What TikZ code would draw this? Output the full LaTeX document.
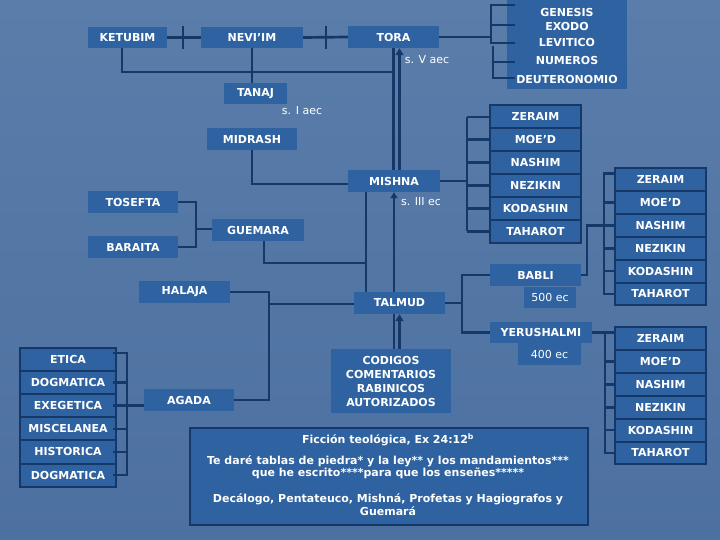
\documentclass[tikz,border=0pt]{standalone}
\usepackage{fontspec}
\setmainfont{DejaVu Sans}
\usetikzlibrary{arrows.meta,calc}
\definecolor{bgtop}{HTML}{5A7DAA}
\definecolor{bgbot}{HTML}{4C70A0}
\definecolor{boxfill}{HTML}{2E62A0}
\definecolor{navy}{HTML}{163868}
\newcommand{\lblfont}{\bfseries\fontsize{11}{12.5}\selectfont}
\newcommand{\codfont}{\bfseries\fontsize{11}{14}\selectfont}
\newcommand{\regfont}{\fontsize{11}{13}\selectfont}
\newcommand{\notefont}{\bfseries\fontsize{11}{12}\selectfont}
\tikzset{
  bx/.style={fill=boxfill, text=white, font=\lblfont, inner sep=0pt, minimum height=22pt},
  cell/.style={bx, draw=navy, line width=2pt, minimum width=91pt, minimum height=22.9pt},
  ecell/.style={bx, draw=navy, line width=2pt, minimum width=96pt, minimum height=23.1pt},
  lbl/.style={text=white, font=\lblfont, inner sep=1pt},
  reglbl/.style={text=white, font=\regfont, inner sep=1pt},
  conn/.style={draw=navy, line width=2.7pt, line join=miter},
  bigarrow/.style={draw=navy, line width=3.8pt, -{Triangle[length=7pt,width=8pt]}},
  smallarrow/.style={draw=navy, line width=2.7pt, -{Triangle[length=6pt,width=7pt]}},
  notetxt/.style={text=white, font=\notefont, inner sep=1pt, align=center}
}
\begin{document}
\begin{tikzpicture}[x=1pt,y=-1pt]
\fill[top color=bgtop, bottom color=bgbot] (0,0) rectangle (720,540);
\useasboundingbox (0,0) rectangle (720,540);

% ---------- top row ----------
\node[bx,minimum width=79pt,minimum height=21pt] (ketubim) at (127.5,37.5) {KETUBIM};
\node[bx,minimum width=102pt,minimum height=21pt] (neviim) at (252,37.5) {NEVI’IM};
\node[bx,minimum width=91pt,minimum height=22pt] (tora) at (393.5,37) {TORA};
\node[bx,minimum width=120pt,minimum height=89pt] (pent) at (567,44.5) {};
\node[lbl] (gen) at (567,12) {GENESIS};
\node[lbl] (exo) at (567,26.5) {EXODO};
\node[lbl] (lev) at (567,42.5) {LEVITICO};
\node[lbl] (num) at (567,60) {NUMEROS};
\node[lbl] (deu) at (567,79) {DEUTERONOMIO};
\node[reglbl] (sv) at (427,60) {s. V aec};

\node[bx,minimum width=63pt,minimum height=21pt] (tanaj) at (255.5,93.5) {TANAJ};
\node[reglbl] (si) at (302,111) {s. I aec};
\node[bx,minimum width=90pt] (midrash) at (252,139) {MIDRASH};
\node[bx,minimum width=92pt] (mishna) at (394,181) {MISHNA};
\node[reglbl] (siii) at (421,202) {s. III ec};

% Mishna orders
\foreach \t [count=\i] in {ZERAIM,MOE’D,NASHIM,NEZIKIN,KODASHIN,TAHAROT}
  \node[cell] (ma\i) at (535.5,{105.5+22.9*(\i-0.5)}) {\t};

\node[bx,minimum width=90pt] (tosefta) at (133,202) {TOSEFTA};
\node[bx,minimum width=90pt] (baraita) at (133,247) {BARAITA};
\node[bx,minimum width=92pt] (guemara) at (258,230) {GUEMARA};
\node[bx,minimum width=91pt] (halaja) at (184.5,292) {HALAJA};
\node[bx,minimum width=91pt] (talmud) at (399.5,303) {TALMUD};
\node[bx,minimum width=90pt] (agada) at (189,400) {AGADA};
\node[bx,minimum width=120pt,minimum height=64pt,align=center,font=\codfont] (codigos) at (391,381) {CODIGOS\\COMENTARIOS\\RABINICOS\\AUTORIZADOS};

\node[bx,minimum width=91pt] (babli) at (535.5,275) {BABLI};
\node[bx,minimum width=52pt,minimum height=21pt,font=\regfont] (ec500) at (550,297.5) {500 ec};
\node[bx,minimum width=102pt,minimum height=21pt] (yeru) at (541,332.5) {YERUSHALMI};
\node[bx,minimum width=63pt,minimum height=22pt,font=\regfont] (ec400) at (549.5,354) {400 ec};

% Babli / Yerushalmi orders
\foreach \t [count=\i] in {ZERAIM,MOE’D,NASHIM,NEZIKIN,KODASHIN,TAHAROT}
  \node[cell] (ba\i) at (660.5,{168+22.9*(\i-0.5)}) {\t};
\foreach \t [count=\i] in {ZERAIM,MOE’D,NASHIM,NEZIKIN,KODASHIN,TAHAROT}
  \node[cell] (ya\i) at (660.5,{327+22.9*(\i-0.5)}) {\t};

% Agada kinds
\foreach \t [count=\i] in {ETICA,DOGMATICA,EXEGETICA,MISCELANEA,HISTORICA,DOGMATICA}
  \node[ecell] (ea\i) at (68,{348+23.1*(\i-0.5)}) {\t};

% bottom note
\node[bx,draw=navy,line width=2pt,minimum width=398pt,minimum height=97pt] (note) at (389,476.5) {};
\node[notetxt] (n1) at (388,440) {Ficción teológica, Ex 24:12\textsuperscript{b}};
\node[notetxt,font=\notefont\linespread{0.9}\selectfont] (n2) at (388,467.5) {Te daré tablas de piedra* y la ley** y los mandamientos***\\que he escrito****para que los enseñes*****};
\node[notetxt,font=\notefont\linespread{1.1}\selectfont] (n3) at (388,505) {Decálogo, Pentateuco, Mishná, Profetas y Hagiografos y\\Guemará};

% ---------- connectors ----------
% top row with ticks
\coordinate (k1) at (183,26); \coordinate (k2) at (183,49);
\coordinate (k3) at (326,26); \coordinate (k4) at (326,49);
\draw[conn] (ketubim.east) -- (neviim.west);
\draw[conn] (k1) -- (k2);
\draw[conn] (neviim.east) -- (tora.west);
\draw[conn] (k3) -- (k4);

% Tora to pentateuch bracket
\coordinate (pb) at (491,37);
\coordinate (pt) at (515,0);
\draw[conn] (tora.east) -- (pb);
\coordinate (p1) at (491,5); \coordinate (p3) at (491,43);
\coordinate (p4) at (493,46); \coordinate (p5) at (493,78);
\draw[conn] (p1 -| pt) -- (p1) -- (p3) -- (p3 -| pt);
\draw[conn] (491,25) -- (515,25);
\draw[conn] (p4) -- (p5) -- (p5 -| pt);
\draw[conn] (493,62) -- (515,62);

% Tanaj
\coordinate (tj) at (394,72);
\draw[conn] ([xshift=-5.5pt]ketubim.south) |- (tj);
\draw[conn] (neviim.south) -- (neviim.south |- tanaj.north);

% Tora - Mishna
\draw[conn] (tora.south) -- (tora.south |- mishna.north);
\coordinate (ma) at ([xshift=5.5pt]mishna.north);
\draw[bigarrow] (ma) -- (ma |- tora.south);

% Midrash - Mishna
\draw[conn] (midrash.south) |- ($(mishna.west)+(0,3)$);

% Mishna - orders
\coordinate (mb) at (467,0);
\draw[conn] (mishna.east) -- (mishna.east -| mb);
\draw[conn] (ma1.west -| mb) -- (ma6.west -| mb);
\foreach \i in {1,...,6} \draw[conn] (ma\i.west -| mb) -- (ma\i.west);

% Mishna / Guemara - Talmud
\coordinate (gx) at (366,263);
\draw[conn] (mishna.south -| gx) -- (talmud.north -| gx);
\draw[conn] ($(guemara.south)+(6,0)$) |- (gx);
\coordinate (ta) at ($(talmud.north)+(-5.5,0)$);
\draw[smallarrow] (ta) -- (ta |- mishna.south);

% Tosefta / Baraita - Guemara
\coordinate (tb) at (196,229);
\draw[conn] (tosefta.east) -| (tb |- baraita.east) -- (baraita.east);
\draw[conn] (tb) -- (tb -| guemara.west);

% Halaja / Agada - Talmud
\coordinate (hb) at (269,304);
\draw[conn] (halaja.east) -| (hb |- agada.east) -- (agada.east);
\draw[conn] (hb) -- (hb -| talmud.west);

% Talmud - Codigos
\coordinate (tc) at ($(talmud.south)+(-5.5,0)$);
\draw[conn] (tc) -- (tc |- codigos.north);
\coordinate (tc2) at (talmud.south);
\draw[bigarrow] (tc2 |- codigos.north) -- (tc2);

% Talmud - Babli / Yerushalmi
\coordinate (tr) at (462,303);
\draw[conn] (talmud.east) -- (tr);
\draw[conn] (babli.west) -| (tr |- yeru.west) -- (yeru.west);

% Babli - orders
\coordinate (bx) at (587,0);
\coordinate (bb) at (604,0);
\draw[conn] (babli.east) -| (bx |- ba3.west) -- (ba3.west);
\coordinate (btop) at ($(ba1.west -| bb)+(0,-6)$);
\draw[conn] (btop -| ba1.west) -- (btop) -- (bb |- ba6.west) -- (ba6.west);
\foreach \i in {2,4,5} \draw[conn] (bb |- ba\i.west) -- (ba\i.west);

% Yerushalmi - orders
\coordinate (yb) at (605,0);
\draw[conn] (yeru.east) -- (yeru.east -| ya1.west);
\draw[conn] (yeru.east -| yb) -- (yb |- ya6.west) -- (ya6.west);
\foreach \i in {2,...,5} \draw[conn] (yb |- ya\i.west) -- (ya\i.west);

% Agada kinds bracket
\coordinate (etop) at (127,353);
\coordinate (ei) at (113,0);
\draw[conn] (ei |- etop) -- (etop) -- (etop |- ea6.west) -- (ei |- ea6.west);
\foreach \i in {2,4,5} \draw[conn] (ei |- ea\i.west) -- (etop |- ea\i.west);
\draw[conn] (ei |- ea3.west) -- (ea3.west -| agada.west);
\end{tikzpicture}
\end{document}
